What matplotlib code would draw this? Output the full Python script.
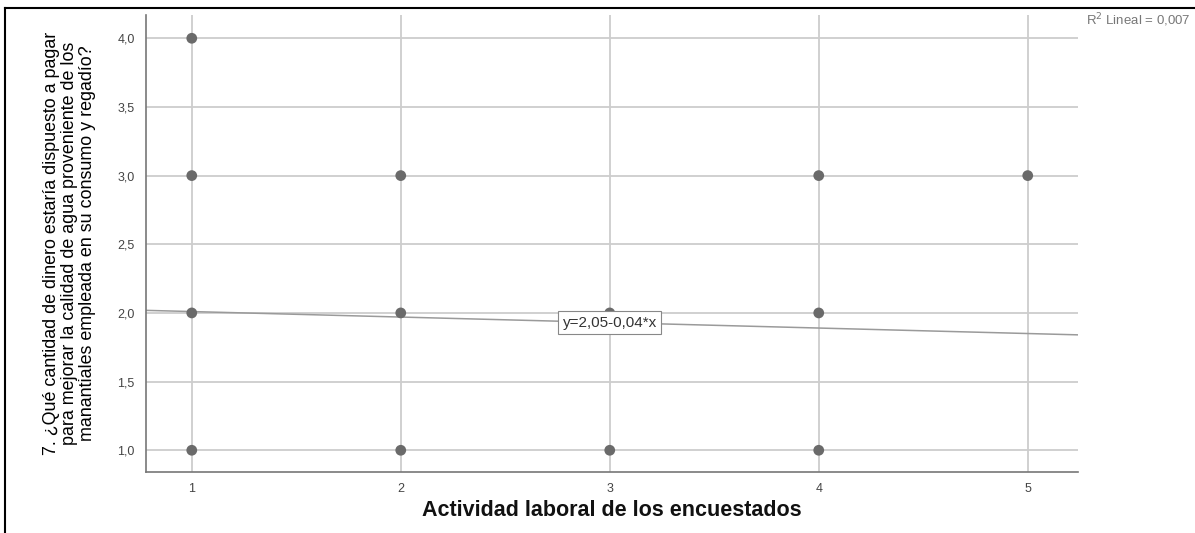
import matplotlib.pyplot as plt
import numpy as np
from matplotlib.lines import Line2D

plt.rcParams['font.family'] = ['Liberation Sans', 'DejaVu Sans']

# Data
actividad = [1, 1, 1, 1, 2, 2, 2, 3, 3, 4, 4, 4, 5]
cantidad = [4, 3, 2, 1, 3, 2, 1, 2, 1, 3, 2, 1, 3]
intercept = 2.05
slope = -0.04
r2 = 0.007

x_ticks = [1, 2, 3, 4, 5]
y_ticks = [1.0, 1.5, 2.0, 2.5, 3.0, 3.5, 4.0]

fig = plt.figure(figsize=(11.95, 5.33), dpi=100)
ax = fig.add_axes([0.122, 0.114, 0.780, 0.858])

ax.set_xlim(0.78, 5.24)
ax.set_ylim(0.84, 4.17)

ax.grid(True, color='#cdcdcd', linewidth=1.3)
ax.set_axisbelow(True)

ax.scatter(actividad, cantidad, s=60, color='#6a6a6a', zorder=3, edgecolors='none')

# fitted line across the whole x range
xs = np.array(ax.get_xlim())
ax.plot(xs, intercept + slope * xs, color='#9a9a9a', linewidth=1.1, zorder=2)
ax.text(3, intercept + slope * 3, 'y=2,05-0,04*x', ha='center', va='center',
        fontsize=11, color='#333333', zorder=4,
        bbox=dict(boxstyle='square,pad=0.3', facecolor='white', edgecolor='#888888', linewidth=0.8))

ax.set_xticks(x_ticks)
ax.set_yticks(y_ticks)
ax.set_yticklabels([('%.1f' % v).replace('.', ',') for v in y_ticks])
ax.tick_params(length=0, labelsize=9, colors='#444444', pad=8)

for s in ['top', 'right']:
    ax.spines[s].set_visible(False)
for s in ['left', 'bottom']:
    ax.spines[s].set_color('#777777')
    ax.spines[s].set_linewidth(1.2)

ax.set_xlabel('Actividad laboral de los encuestados', fontsize=15.5, fontweight='bold',
              labelpad=3, color='#111111')
ax.set_ylabel('7. ¿Qué cantidad de dinero estaría dispuesto a pagar\n'
              'para mejorar la calidad de agua proveniente de los\n'
              'manantiales empleada en su consumo y regadío?',
              fontsize=12.9, linespacing=1.1, labelpad=15, color='black')

fig.text(0.996, 0.962, 'R$^2$ Lineal = 0,007', ha='right', va='center', fontsize=9.5, color='#777777')

# outer frame (left and top edges only)
fig.add_artist(Line2D([0.0045, 0.0045], [0.0, 0.985], color='black', linewidth=1.5))
fig.add_artist(Line2D([0.0045, 1.0], [0.985, 0.985], color='black', linewidth=1.5))

plt.savefig('out.png', dpi=100)
